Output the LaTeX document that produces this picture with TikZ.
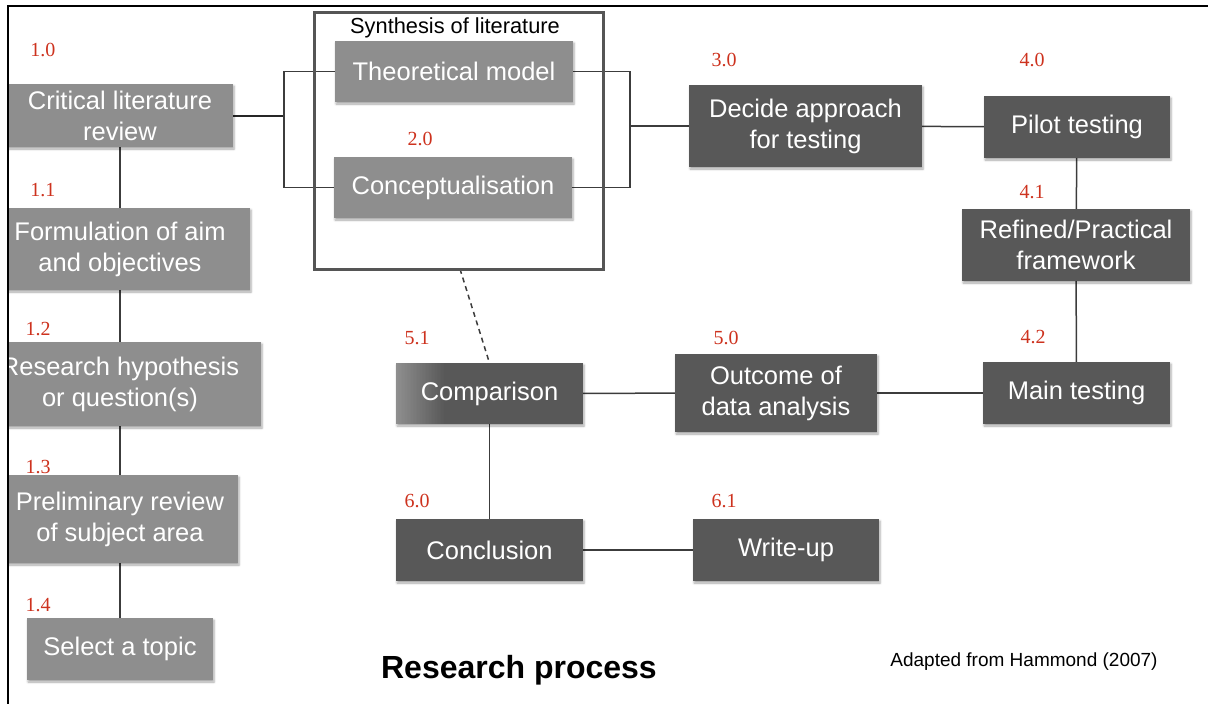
\documentclass[tikz,border=0pt]{standalone}
\usepackage{fontspec}
\setmainfont{Liberation Sans}
\newfontfamily\numfont{Liberation Serif}
\usetikzlibrary{shadows.blur}
\pgfdeclarelayer{background}
\pgfsetlayers{background,main}

\definecolor{boxlight}{RGB}{142,142,142}
\definecolor{boxdark}{RGB}{88,88,88}
\definecolor{numred}{RGB}{205,50,30}
\definecolor{wirecol}{RGB}{60,60,60}
\definecolor{framecol}{RGB}{85,85,85}

\tikzset{
  every node/.style={inner sep=0pt, outer sep=0pt},
  sz/.style 2 args={minimum width=#1pt, minimum height=#2pt},
  stage/.style={rectangle, text=white, align=center,
    font=\fontsize{25.5}{31}\selectfont,
    blur shadow={shadow xshift=1pt, shadow yshift=-2pt,
      shadow blur steps=4, shadow opacity=35}},
  lightstage/.style={stage, fill=boxlight},
  darkstage/.style={stage, fill=boxdark},
  num/.style={text=numred, font=\numfont\fontsize{20}{20}\selectfont},
  wire/.style={draw=wirecol, line width=1.5pt},
  % light-to-dark fade along the left edge of a box, built from thin strips
  leftfade/.style={path picture={
    \foreach \k [evaluate=\k as \pc using {100-\k*100/32}] in {0,...,31}{
      \fill[boxlight!\pc!boxdark]
        ([xshift={\k*1.5pt}]path picture bounding box.south west) rectangle
        ([xshift={\k*1.5pt+1.7pt}]path picture bounding box.north west);
    }}},
}

\begin{document}
\begin{tikzpicture}[x=1pt, y=-1pt]
\useasboundingbox (0,0) rectangle (1208,704);

\begin{scope}
\clip (9,7) rectangle (1208,704);

% ---- step 1: from topic to literature review ----
\node[lightstage, sz={226}{63}]  (n10) at (120,115.5) {Critical literature\\review};
\node[lightstage, sz={260}{82}]  (n11) at (120,249)   {Formulation of aim\\and objectives};
\node[lightstage, sz={282}{84}]  (n12) at (120,384)   {Research hypothesis\\or question(s)};
\node[lightstage, sz={236}{88}]  (n13) at (120,519)   {Preliminary review\\of subject area};
\node[lightstage, sz={186}{62}]  (n14) at (120,649)   {Select a topic};

\node[num] (l10) at (43,50)  {1.0};
\node[num] (l11) at (43,190) {1.1};
\node[num] (l12) at (38,329) {1.2};
\node[num] (l13) at (38,467) {1.3};
\node[num] (l14) at (38,605) {1.4};

% ---- step 2: synthesis of literature ----
\node[draw=framecol, line width=3pt, sz={289}{257}] (syn) at (458.5,140.5) {};
\node[font=\fontsize{21.8}{24}\selectfont] (syntitle) at (455,28) {Synthesis of literature};
\node[lightstage, sz={238}{61}] (tm) at (454,71.5)  {Theoretical model};
\node[lightstage, sz={238}{61}] (cm) at (453,187.5) {Conceptualisation};
\node[num] (l20) at (420,139) {2.0};

% ---- steps 3 and 4: testing ----
\node[darkstage, sz={233}{82}] (dec)  at (805.5,126) {Decide approach\\for testing};
\node[darkstage, sz={186}{62}] (pil)  at (1077,127)  {Pilot testing};
\node[darkstage, sz={228}{72}] (ref)  at (1076,245)  {Refined/Practical\\framework};
\node[darkstage, sz={187}{62}] (mt)   at (1076.5,393) {Main testing};
\node[num] (l30) at (724,60)   {3.0};
\node[num] (l40) at (1032,60)  {4.0};
\node[num] (l41) at (1032,192) {4.1};
\node[num] (l42) at (1033,337) {4.2};

% ---- steps 5 and 6: analysis and write-up ----
\node[darkstage, sz={202}{78}] (out) at (776,393) {Outcome of\\data analysis};
\node[darkstage, leftfade, sz={187}{61}] (cmp) at (489.5,393.5) {Comparison};
\node[darkstage, sz={187}{62}] (con) at (489.5,550) {Conclusion};
\node[darkstage, sz={186}{62}] (wup) at (786,550)   {Write-up};
\node[num] (l50) at (726,338) {5.0};
\node[num] (l51) at (417,338) {5.1};
\node[num] (l60) at (417,501) {6.0};
\node[num] (l61) at (724,501) {6.1};

% ---- captions ----
\node[font=\bfseries\fontsize{32}{36}\selectfont] (cap) at (519,670) {Research process};
\node[font=\fontsize{19}{22}\selectfont] (src) at (1024,662) {Adapted from Hammond (2007)};

% ---- connectors ----
\coordinate (bl) at (284,0);
\coordinate (br) at (630,0);
\begin{pgfonlayer}{background}
  \draw[wire] (n10) -- (n11);
  \draw[wire] (n11) -- (n12);
  \draw[wire] (n12) -- (n13);
  \draw[wire] (n13) -- (n14);
  \draw[wire, line width=2pt, draw=black!85] (n10.east) -- (n10.east -| bl);
  \draw[wire] (tm.west) -- (tm.west -| bl) -- (cm.west -| bl) -- (cm.west);
  \draw[wire] (tm.east) -- (tm.east -| br) -- (cm.east -| br) -- (cm.east);
  \draw[wire] (dec.west -| br) -- (dec.west);
  \draw[wire] (dec) -- (pil);
  \draw[wire] (pil) -- (ref);
  \draw[wire] (ref) -- (mt);
  \draw[wire] (mt) -- (out);
  \draw[wire] (out) -- (cmp);
  \draw[wire] (cmp) -- (con);
  \draw[wire] (con) -- (wup);
  \draw[wire, dash pattern=on 5pt off 4pt] ([xshift=1.5pt]syn.south) -- (cmp.north);
\end{pgfonlayer}
\end{scope}

% ---- outer frame ----
\draw[line width=2.5pt, line cap=rect] (8,704) -- (8,6) -- (1208,6);
\end{tikzpicture}
\end{document}
